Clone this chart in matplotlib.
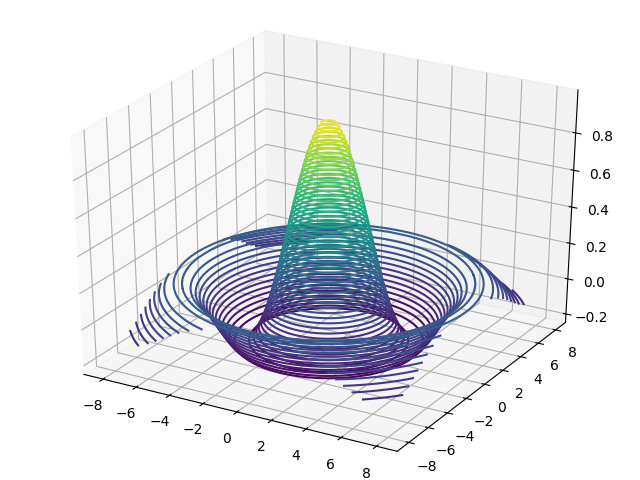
import numpy as np
import matplotlib
matplotlib.use("Agg")
import matplotlib.pyplot as plt

# Radial height profile estimated for the rotationally symmetric surface
radius = [0, .25, .5, .75, 1, 1.25, 1.5, 1.75, 2, 2.25, 2.5, 2.75, 3, 3.25, 3.5, 3.75,
          4, 4.25, 4.5, 4.75, 5, 5.25, 5.5, 5.75, 6, 6.25, 6.5, 6.75, 7, 7.25, 7.5, 7.75,
          8, 8.25, 8.5, 8.75, 9, 9.25, 9.5, 9.75, 10, 10.25, 10.5, 10.75, 11, 11.25, 11.5]
height = [1.0, .990, .959, .909, .841, .759, .665, .562, .455, .346, .239, .139, .047, -.034, -.100, -.152,
          -.189, -.210, -.217, -.210, -.192, -.164, -.128, -.089, -.047, -.005, .033, .067, .094, .113, .125, .128,
          .124, .112, .095, .071, .046, .019, -.008, -.033, -.054, -.072, -.084, -.091, -.091, -.086, -.077]
z_ticks = [-0.2, 0.0, 0.2, 0.4, 0.6, 0.8]

xs = np.linspace(-8, 8, 321)
X, Y = np.meshgrid(xs, xs)
Z = np.interp(np.hypot(X, Y), radius, height)

fig = plt.figure(figsize=(6.4, 4.8), dpi=100)
ax = fig.add_subplot(projection="3d")
ax.contour(X, Y, Z, 50, cmap="viridis")
ax.set_zlim(-0.248, 1.026, view_margin=0)
ax.set_zticks(z_ticks)
ax.set_box_aspect((1, 1, 1), zoom=0.95)
ax.apply_aspect = lambda position=None: None
ax.set_position([0.0, 0.0, 1.0, 1.0])
fig.savefig("out.png", dpi=100)
